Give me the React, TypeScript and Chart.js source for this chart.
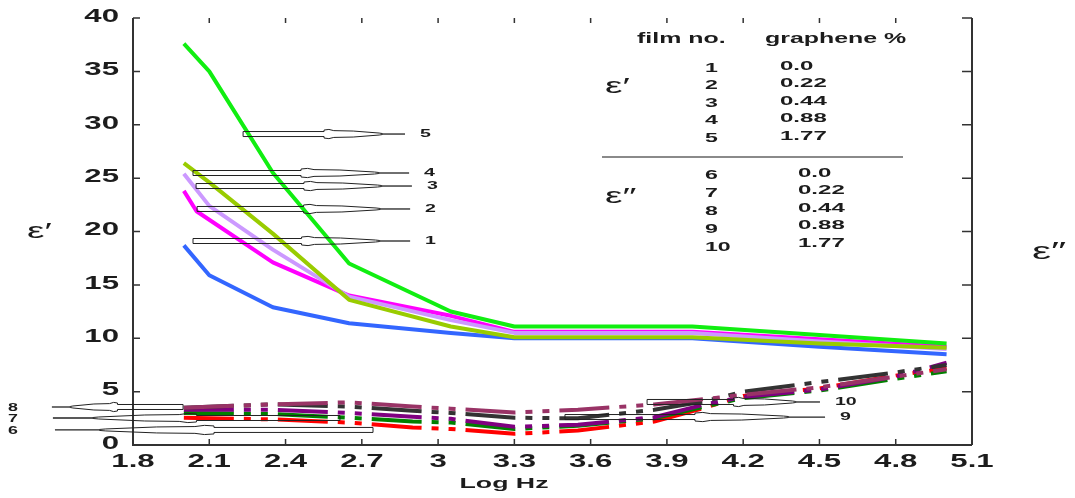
import React, { useEffect, useRef } from "react";
import { Chart, registerables } from "chart.js";

Chart.register(...registerables);

// ---------- data ----------
const X_TICKS = [1.8, 2.1, 2.4, 2.7, 3.0, 3.3, 3.6, 3.9, 4.2, 4.5, 4.8, 5.1];
const Y_TICKS = [0, 5, 10, 15, 20, 25, 30, 35, 40];

// ε′ (solid) series
const EPS1_X = [2.0, 2.1, 2.35, 2.65, 3.05, 3.3, 4.0, 4.5, 5.0];
const FILM2_X = [2.0, 2.05, 2.35, 2.65, 3.05, 3.3, 4.0, 4.5, 5.0];
const FILM1 = [18.7, 15.9, 12.9, 11.4, 10.5, 10.0, 10.0, 9.2, 8.5];
const FILM2 = [23.8, 21.9, 17.1, 14.0, 12.1, 10.6, 10.6, 9.9, 9.2];
const FILM3 = [25.4, 22.4, 18.3, 13.9, 11.7, 10.5, 10.5, 9.7, 9.0];
const FILM4 = [26.4, 24.6, 19.8, 13.6, 11.1, 10.1, 10.1, 9.5, 9.1];
const FILM5 = [37.6, 35.0, 25.5, 17.0, 12.5, 11.1, 11.1, 10.3, 9.5];

// ε″ (dashed) series
const EPS2_X = [2.0, 2.35, 2.65, 2.9, 3.05, 3.3, 3.55, 3.85, 4.05, 4.2, 4.5, 4.8, 5.0];
const FILM6 = [2.55, 2.4, 2.1, 1.65, 1.5, 1.05, 1.35, 2.2, 3.5, 4.6, 5.3, 6.5, 7.2];
const FILM7 = [3.0, 2.9, 2.55, 2.2, 2.1, 1.5, 1.8, 2.5, 3.6, 4.4, 5.1, 6.2, 6.9];
const FILM8 = [3.3, 3.3, 3.0, 2.65, 2.45, 1.7, 1.9, 2.6, 3.8, 4.5, 5.2, 6.4, 7.7];
const FILM9 = [3.5, 3.8, 3.6, 3.2, 3.0, 2.55, 2.5, 3.3, 4.1, 5.0, 5.9, 6.8, 7.5];
const FILM10 = [3.5, 3.8, 4.0, 3.6, 3.4, 3.05, 3.3, 3.8, 4.3, 4.7, 5.4, 6.4, 7.1];

// legend table
const FILM_NO = ["1", "2", "3", "4", "5", "6", "7", "8", "9", "10"];
const GRAPHENE = ["0.0", "0.22", "0.44", "0.88", "1.77", "0.0", "0.22", "0.44", "0.88", "1.77"];

// numbered callouts (data units)
const CALLOUT_LABEL = ["1", "2", "3", "4", "5", "6", "7", "8", "9", "10"];
const CALLOUT_TIP_X = [2.036, 2.052, 2.048, 2.036, 2.233, 2.744, 2.614, 1.997, 3.499, 3.822];
const CALLOUT_TIP_Y = [19.11, 22.11, 24.26, 25.48, 29.13, 1.41, 2.53, 3.56, 2.62, 4.03];
const CALLOUT_TAIL_X = [2.89, 2.89, 2.897, 2.886, 2.87, 1.493, 1.485, 1.481, 4.522, 4.502];

// ---------- styling ----------
const FONT = "'Liberation Sans', 'DejaVu Sans', Arial, sans-serif";
const SX = 1.78;
const DASH = [50, 10, 7, 10, 7, 10];
const TEXT = "#1c1c1c";

function txt(
  ctx: CanvasRenderingContext2D,
  s: string,
  x: number,
  y: number,
  size: number,
  align: CanvasTextAlign = "left",
  weight = "bold",
  sx = SX
) {
  ctx.save();
  ctx.font = `${weight} ${size}px ${FONT}`;
  ctx.textAlign = align;
  ctx.textBaseline = "middle";
  ctx.fillStyle = TEXT;
  ctx.translate(x, y);
  ctx.scale(sx, 1);
  ctx.fillText(s, 0, 0);
  ctx.restore();
}

function callout(ctx: CanvasRenderingContext2D, xTip: number, xTail: number, y: number) {
  const dir = xTail > xTip ? 1 : -1;
  const L = Math.abs(xTail - xTip);
  const prof: [number, number][] = [
    [0, 2.5],
    [0.5, 2.5],
    [0.5, 4],
    [0.53, 4.6],
    [0.56, 3.4],
    [0.68, 3],
    [0.84, 1],
    [0.86, 0.5],
  ];
  ctx.save();
  ctx.strokeStyle = "#222";
  ctx.lineWidth = 1;
  ctx.beginPath();
  prof.forEach(([t, h], i) => {
    const px = xTip + dir * t * L;
    if (i === 0) ctx.moveTo(px, y - h);
    else ctx.lineTo(px, y - h);
  });
  for (let i = prof.length - 1; i >= 0; i--) {
    const [t, h] = prof[i];
    ctx.lineTo(xTip + dir * t * L, y + h);
  }
  ctx.closePath();
  ctx.stroke();
  ctx.lineWidth = 1.3;
  ctx.beginPath();
  ctx.moveTo(xTip + dir * 0.86 * L, y);
  ctx.lineTo(xTail, y);
  ctx.stroke();
  ctx.restore();
}

const decorPlugin = {
  id: "decor",
  afterDraw(chart: any) {
    const ctx: CanvasRenderingContext2D = chart.ctx;
    const xs = chart.scales.x;
    const ys = chart.scales.y;
    const { left, right, top, bottom } = chart.chartArea;

    // axes
    ctx.save();
    ctx.strokeStyle = "#333";
    ctx.lineWidth = 2;
    ctx.beginPath();
    ctx.moveTo(left, top);
    ctx.lineTo(left, bottom);
    ctx.lineTo(right, bottom);
    ctx.moveTo(right, top);
    ctx.lineTo(right, bottom);
    ctx.stroke();
    ctx.lineWidth = 1.5;
    ctx.beginPath();
    ys.ticks.forEach((t: any) => {
      const py = ys.getPixelForValue(t.value);
      ctx.moveTo(left, py);
      ctx.lineTo(left + 7, py);
      ctx.moveTo(right, py);
      ctx.lineTo(right - 10, py);
    });
    xs.ticks.forEach((t: any) => {
      const px = xs.getPixelForValue(t.value);
      ctx.moveTo(px, bottom);
      ctx.lineTo(px, bottom - 6);
      ctx.moveTo(px, top);
      ctx.lineTo(px, top + 5);
    });
    ctx.stroke();
    ctx.restore();

    // tick labels
    ys.ticks.forEach((t: any) => {
      txt(ctx, String(t.value), left - 14, ys.getPixelForValue(t.value) - 1, 17.5, "right");
    });
    xs.ticks.forEach((t: any) => {
      const v = Math.round(t.value * 10) / 10;
      txt(ctx, String(v), xs.getPixelForValue(t.value), bottom + 17, 17.5, "center");
    });
    txt(ctx, "Log Hz", 504, 484, 15, "center");

    // axis symbols
    txt(ctx, "ε′", 27, 232, 22, "left", "normal");
    txt(ctx, "ε″", 1032, 252, 24, "left", "normal");

    // callouts
    for (let i = 0; i < CALLOUT_LABEL.length; i++) {
      const xt = xs.getPixelForValue(CALLOUT_TIP_X[i]);
      const xe = xs.getPixelForValue(CALLOUT_TAIL_X[i]);
      const py = ys.getPixelForValue(CALLOUT_TIP_Y[i]);
      callout(ctx, xt, xe, py);
      if (xe > xt) txt(ctx, CALLOUT_LABEL[i], xe + 15, py, 11, "left");
      else txt(ctx, CALLOUT_LABEL[i], 13, py + 1, 10, "center");
    }

    // legend table
    txt(ctx, "film no.", 637, 39, 14, "left");
    txt(ctx, "graphene %", 765, 39, 14, "left");
    txt(ctx, "ε′", 605, 87, 22, "left", "normal");
    txt(ctx, "ε″", 605, 197, 22, "left", "normal");
    for (let i = 0; i < 5; i++) {
      txt(ctx, FILM_NO[i], 705, 68 + 17.5 * i, 13, "left");
      txt(ctx, GRAPHENE[i], 780, 66 + 17.5 * i, 13.5, "left");
    }
    for (let i = 5; i < 10; i++) {
      const k = i - 5;
      txt(ctx, FILM_NO[i], 705, 175 + 18 * k, 13, "left");
      txt(ctx, GRAPHENE[i], 798, 173 + 17.5 * k, 13.5, "left");
    }
    ctx.save();
    ctx.strokeStyle = "#8a8a8a";
    ctx.lineWidth = 2;
    ctx.beginPath();
    ctx.moveTo(602, 157);
    ctx.lineTo(903, 157);
    ctx.stroke();
    ctx.restore();
  },
};

function series(label: string, xsArr: number[], ysArr: number[], color: string, order: number, dashed: boolean) {
  return {
    label,
    data: xsArr.map((x, i) => ({ x, y: ysArr[i] })),
    borderColor: color,
    backgroundColor: color,
    borderWidth: 4,
    pointRadius: 0,
    tension: 0,
    order,
    fill: false,
    borderDash: dashed ? DASH : [],
    borderJoinStyle: "round" as const,
    borderCapStyle: "butt" as const,
  };
}

export default function App() {
  const ref = useRef<HTMLCanvasElement>(null);
  useEffect(() => {
    document.body.style.margin = "0";
    const chart = new Chart(ref.current as HTMLCanvasElement, {
      type: "line",
      data: {
        datasets: [
          series("5", EPS1_X, FILM5, "#11ee11", 0, false),
          series("4", EPS1_X, FILM4, "#99cc00", 1, false),
          series("3", EPS1_X, FILM3, "#cc99ff", 2, false),
          series("2", FILM2_X, FILM2, "#ff00ff", 3, false),
          series("1", EPS1_X, FILM1, "#3366ff", 4, false),
          series("10", EPS2_X, FILM10, "#993366", 5, true),
          series("9", EPS2_X, FILM9, "#333333", 6, true),
          series("8", EPS2_X, FILM8, "#800080", 7, true),
          series("7", EPS2_X, FILM7, "#008000", 8, true),
          series("6", EPS2_X, FILM6, "#ff0000", 9, true),
        ] as any,
      },
      options: {
        animation: false,
        responsive: false,
        events: [],
        layout: { padding: { top: 18, right: 103, left: 0, bottom: 0 } },
        plugins: { legend: { display: false }, tooltip: { enabled: false } },
        scales: {
          x: {
            type: "linear",
            min: 1.8,
            max: 5.1,
            afterBuildTicks: (s: any) => {
              s.ticks = X_TICKS.map((v) => ({ value: v }));
            },
            afterFit: (s: any) => {
              s.height = 53;
            },
            ticks: { display: false },
            grid: { display: false, drawTicks: false },
            border: { display: false },
          },
          y: {
            type: "linear",
            min: 0,
            max: 40,
            afterBuildTicks: (s: any) => {
              s.ticks = Y_TICKS.map((v) => ({ value: v }));
            },
            afterFit: (s: any) => {
              s.width = 133;
            },
            ticks: { display: false },
            grid: { display: false, drawTicks: false },
            border: { display: false },
          },
        },
      } as any,
      plugins: [decorPlugin],
    });
    return () => chart.destroy();
  }, []);
  return (
    <div style={{ width: 1075, height: 498 }}>
      <canvas ref={ref} width={1075} height={498} style={{ display: "block" }} />
    </div>
  );
}
